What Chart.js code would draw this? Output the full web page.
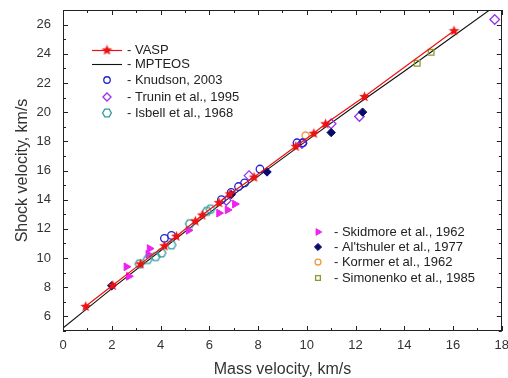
<!DOCTYPE html>
<html><head><meta charset="utf-8">
<script src="https://cdn.jsdelivr.net/npm/chart.js@4.4.1/dist/chart.umd.min.js"></script>
<style>html,body{margin:0;padding:0;background:#fff;}canvas{display:block;}</style>
</head><body>
<canvas id="c" width="508" height="378"></canvas>
<script>
// ---- axis ticks ----
const xTickValues = [0, 2, 4, 6, 8, 10, 12, 14, 16, 18];
const yTickValues = [6, 8, 10, 12, 14, 16, 18, 20, 22, 24, 26];

// ---- series (mass velocity U, shock velocity D) ----
const vaspU = [0.93, 2.04, 3.18, 4.16, 4.65, 5.43, 5.71, 6.4, 6.85, 7.84, 9.55, 10.29, 10.77, 12.37, 16.04];
const vaspD = [6.69, 8.13, 9.6, 10.84, 11.5, 12.54, 12.95, 13.8, 14.4, 15.55, 17.66, 18.55, 19.2, 21.07, 25.58];

const mpteosU = [0, 1, 2, 4, 6, 8, 10, 12, 14, 16, 18];
const mpteosD = [5.2, 6.55, 7.9, 10.5, 13.1, 15.6, 18.05, 20.45, 22.8, 25.2, 27.6];

const knudsonU = [4.16, 4.45, 6.5, 6.9, 7.2, 7.45, 8.08, 9.6, 9.84];
const knudsonD = [11.35, 11.55, 14.0, 14.5, 14.9, 15.15, 16.1, 17.9, 17.9];

const truninU = [6.7, 7.63, 9.8, 11.0, 12.16, 17.71];
const truninD = [13.95, 15.65, 17.85, 19.2, 19.7, 26.35];

const isbellU = [3.14, 3.47, 3.8, 4.04, 4.45, 5.2, 5.9, 6.05];
const isbellD = [9.6, 9.9, 10.1, 10.35, 10.9, 12.35, 13.2, 13.35];

const skidmoreU = [2.6, 2.7, 3.5, 3.55, 5.15, 6.4, 6.75, 7.05];
const skidmoreD = [9.4, 8.75, 10.25, 10.65, 11.9, 13.08, 13.3, 13.7];

const altshulerU = [2.0, 6.9, 8.37, 11.0, 12.29];
const altshulerD = [8.1, 14.35, 15.9, 18.6, 20.0];

const kormerU = [9.95];
const kormerD = [18.4];

const simonenkoU = [14.53, 15.1];
const simonenkoD = [23.35, 24.1];

const seriesLabels = ['VASP', 'MPTEOS', 'Knudson, 2003', 'Trunin et al., 1995', 'Isbell et al., 1968',
  'Skidmore et al., 1962', "Al'tshuler et al., 1977", 'Kormer et al., 1962', 'Simonenko et al., 1985'];

const xTitle = 'Mass velocity, km/s';
const yTitle = 'Shock velocity, km/s';

// ---- helpers ----
function pts(xs, ys) { return xs.map((x, i) => ({ x: x, y: ys[i] })); }

function starImg(color) {
  const c = document.createElement('canvas');
  c.width = 13; c.height = 13;
  const g = c.getContext('2d');
  g.fillStyle = color;
  g.beginPath();
  for (let i = 0; i < 10; i++) {
    const r = i % 2 ? 2.4 : 5.6;
    const a = -Math.PI / 2 + i * Math.PI / 5;
    g.lineTo(6.5 + r * Math.cos(a), 6.8 + r * Math.sin(a));
  }
  g.closePath();
  g.fill();
  return c;
}
function hexImg(color) {
  const c = document.createElement('canvas');
  c.width = 12; c.height = 12;
  const g = c.getContext('2d');
  g.strokeStyle = color;
  g.lineWidth = 1.3;
  g.beginPath();
  for (let i = 0; i < 6; i++) {
    const a = i * Math.PI / 3;
    g.lineTo(6 + 4.4 * Math.cos(a), 6 + 4.4 * Math.sin(a));
  }
  g.closePath();
  g.stroke();
  return c;
}

const FONT = "'Liberation Sans', Arial, Helvetica, sans-serif";
const clear = 'rgba(255,255,255,0)';

const datasets = [
  { label: seriesLabels[0], data: pts(vaspU, vaspD), showLine: true, borderColor: '#ee1111', borderWidth: 1.2,
    pointStyle: starImg('#ee1111'), pointRadius: 5, pointBackgroundColor: '#ee1111', pointBorderColor: '#ee1111', order: 0 },
  { label: seriesLabels[1], data: pts(mpteosU, mpteosD), showLine: true, borderColor: '#111111', borderWidth: 1.1,
    pointRadius: 0, order: 10 },
  { label: seriesLabels[2], data: pts(knudsonU, knudsonD), pointStyle: 'circle', pointRadius: 3.8,
    pointBorderWidth: 1.3, pointBorderColor: '#2222cc', pointBackgroundColor: clear, order: 2 },
  { label: seriesLabels[3], data: pts(truninU, truninD), pointStyle: 'rectRot', pointRadius: 4.8,
    pointBorderWidth: 1.3, pointBorderColor: '#9933ee', pointBackgroundColor: clear, order: 2 },
  { label: seriesLabels[4], data: pts(isbellU, isbellD), pointStyle: hexImg('#339999'), pointRadius: 4.5,
    pointBorderWidth: 1.3, pointBorderColor: '#339999', pointBackgroundColor: clear, order: 2 },
  { label: seriesLabels[5], data: pts(skidmoreU, skidmoreD), pointStyle: 'triangle', rotation: 90, pointRotation: 90, pointRadius: 4.5,
    pointBorderWidth: 1, pointBorderColor: '#ee22ee', pointBackgroundColor: '#ee22ee', order: 2 },
  { label: seriesLabels[6], data: pts(altshulerU, altshulerD), pointStyle: 'rectRot', pointRadius: 4.2,
    pointBorderWidth: 1, pointBorderColor: '#0a0a6e', pointBackgroundColor: '#0a0a6e', order: 1 },
  { label: seriesLabels[7], data: pts(kormerU, kormerD), pointStyle: 'circle', pointRadius: 3.5,
    pointBorderWidth: 1.3, pointBorderColor: '#f29a3a', pointBackgroundColor: clear, order: 2 },
  { label: seriesLabels[8], data: pts(simonenkoU, simonenkoD), pointStyle: 'rect', pointRadius: 4,
    pointBorderWidth: 1.3, pointBorderColor: '#8c9a2a', pointBackgroundColor: clear, order: 2 }
];

// frame + inward ticks on all sides
const framePlugin = {
  id: 'frame',
  afterDatasetsDraw(chart) {
    const ctx = chart.ctx, a = chart.chartArea;
    const xs = chart.scales.x, ys = chart.scales.y;
    ctx.save();
    ctx.strokeStyle = '#222';
    ctx.lineWidth = 1;
    ctx.strokeRect(Math.round(a.left) + 0.5, Math.round(a.top) + 0.5,
      Math.round(a.right - a.left) - 1, Math.round(a.bottom - a.top) - 1);
    ctx.beginPath();
    for (let v = xs.min; v <= xs.max + 1e-9; v += 1) {
      const px = Math.round(xs.getPixelForValue(v)) + 0.5;
      const len = (Math.round(v) % 2 === 0) ? 5 : 3;
      ctx.moveTo(px, a.bottom); ctx.lineTo(px, a.bottom - len);
      ctx.moveTo(px, a.top); ctx.lineTo(px, a.top + len);
    }
    for (let v = Math.ceil(ys.min); v <= ys.max + 1e-9; v += 1) {
      const py = Math.round(ys.getPixelForValue(v)) + 0.5;
      const len = (Math.round(v) % 2 === 0) ? 5 : 3;
      ctx.moveTo(a.left, py); ctx.lineTo(a.left + len, py);
      ctx.moveTo(a.right, py); ctx.lineTo(a.right - len, py);
    }
    ctx.stroke();
    ctx.restore();
  }
};

// two in-plot legend groups built from the datasets
const legendPlugin = {
  id: 'groupLegends',
  afterDatasetsDraw(chart, args, opts) {
    const ctx = chart.ctx;
    const drawPoint = Chart.helpers && Chart.helpers.drawPoint;
    ctx.save();
    ctx.font = '13px ' + FONT;
    ctx.textBaseline = 'middle';
    ctx.textAlign = 'left';
    opts.groups.forEach(g => {
      g.items.forEach(it => {
        const ds = chart.data.datasets[it.index];
        const y = it.y;
        if (ds.showLine) {
          ctx.strokeStyle = ds.borderColor;
          ctx.lineWidth = ds.borderWidth;
          ctx.beginPath();
          ctx.moveTo(g.lineX0, y + 0.5); ctx.lineTo(g.lineX1, y + 0.5);
          ctx.stroke();
        }
        if (ds.pointRadius > 0 && drawPoint) {
          ctx.fillStyle = ds.pointBackgroundColor || clear;
          ctx.strokeStyle = ds.pointBorderColor || clear;
          ctx.lineWidth = ds.pointBorderWidth || 1;
          drawPoint(ctx, { pointStyle: ds.pointStyle, radius: ds.pointRadius * 0.85,
            rotation: ds.pointRotation || 0, borderWidth: ds.pointBorderWidth || 1 }, g.markerX, y);
        }
        ctx.fillStyle = '#222';
        ctx.fillText('- ' + ds.label, g.textX, y);
      });
    });
    ctx.restore();
  }
};

new Chart(document.getElementById('c').getContext('2d'), {
  type: 'scatter',
  data: { datasets: datasets },
  options: {
    responsive: false,
    animation: false,
    devicePixelRatio: 1,
    layout: { padding: { left: 0, right: 4, top: 10, bottom: 0 } },
    plugins: {
      legend: { display: false },
      tooltip: { enabled: false },
      groupLegends: {
        groups: [
          { lineX0: 92, lineX1: 122, markerX: 107, textX: 127,
            items: [{ index: 0, y: 50 }, { index: 1, y: 64 }, { index: 2, y: 80 }, { index: 3, y: 97 }, { index: 4, y: 113 }] },
          { lineX0: 310, lineX1: 326, markerX: 318, textX: 334,
            items: [{ index: 5, y: 232 }, { index: 6, y: 247 }, { index: 7, y: 262 }, { index: 8, y: 278 }] }
        ]
      }
    },
    scales: {
      x: {
        type: 'linear', min: 0, max: 18,
        grid: { display: false, drawTicks: false },
        border: { display: false },
        ticks: { padding: 7, color: '#333', font: { family: FONT, size: 13 }, maxRotation: 0, autoSkip: false },
        afterBuildTicks: s => { s.ticks = xTickValues.map(v => ({ value: v })); },
        afterFit: s => { s.height = 47; s.paddingLeft = 0; s.paddingRight = 0; },
        title: { display: true, text: xTitle, color: '#333', font: { family: FONT, size: 16, lineHeight: 1.0 }, padding: { top: 0, bottom: 0 } }
      },
      y: {
        type: 'linear', min: 5, max: 27,
        grid: { display: false, drawTicks: false },
        border: { display: false },
        ticks: { padding: 12, color: '#333', font: { family: FONT, size: 13 }, autoSkip: false },
        afterBuildTicks: s => { s.ticks = yTickValues.map(v => ({ value: v })); },
        afterFit: s => { s.width = 63; s.paddingTop = 0; s.paddingBottom = 0; },
        title: { display: true, text: yTitle, color: '#333', font: { family: FONT, size: 16, lineHeight: 1.2 }, padding: { top: 12.5, bottom: 0 } }
      }
    }
  },
  plugins: [framePlugin, legendPlugin]
});
</script>
</body></html>
